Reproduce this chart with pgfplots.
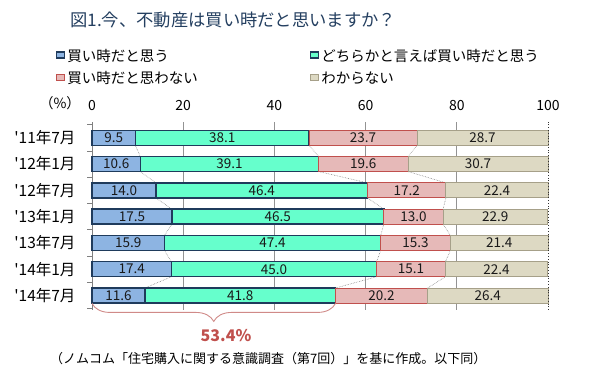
\documentclass[border=0pt]{standalone}
\usepackage{fontspec}
\setmainfont{Noto Sans CJK JP}
\usepackage{pgfplots}
\usepackage{pgfplotstable}
\pgfplotsset{compat=1.18}
\usetikzlibrary{decorations.pathreplacing}

\definecolor{cblue}{HTML}{8DB4E2}
\definecolor{cteal}{HTML}{66FFCC}
\definecolor{cpink}{HTML}{E6B9B8}
\definecolor{cbeige}{HTML}{DDD9C3}
\definecolor{navy}{HTML}{1F3B5C}
\definecolor{cred}{HTML}{C0504D}
\definecolor{cbeigeb}{HTML}{A6A089}
\definecolor{titleblue}{HTML}{243F60}
\definecolor{braceC}{HTML}{D08A88}

\pgfplotstableread{
y a b c d
6 9.5 38.1 23.7 28.7
5 10.6 39.1 19.6 30.7
4 14.0 46.4 17.2 22.4
3 17.5 46.5 13.0 22.9
2 15.9 47.4 15.3 21.4
1 17.4 45.0 15.1 22.4
0 11.6 41.8 20.2 26.4
}\data
\pgfplotstablecreatecol[create col/expr={\thisrow{a}/2}]{ma}\data
\pgfplotstablecreatecol[create col/expr={\thisrow{a}+\thisrow{b}/2}]{mb}\data
\pgfplotstablecreatecol[create col/expr={\thisrow{a}+\thisrow{b}+\thisrow{c}/2}]{mc}\data
\pgfplotstablecreatecol[create col/expr={\thisrow{a}+\thisrow{b}+\thisrow{c}+\thisrow{d}/2}]{md}\data

\pgfplotsset{vallabel/.style={forget plot, stack plots=false, draw=none, mark=none, point meta=explicit,
  nodes near coords={\pgfmathprintnumber[fixed,fixed zerofill,precision=1]{\pgfplotspointmeta}},
  nodes near coords style={font=\fontsize{13.5}{15}\selectfont, text=black!90, anchor=center}}}

\begin{document}
\begin{tikzpicture}[x=1pt,y=1pt]
\path[use as bounding box] (0,0) rectangle (590,374);
\begin{axis}[
  at={(92pt,64pt)}, anchor=south west,
  width=456pt, height=188pt, scale only axis,
  xmin=0, xmax=100, ymin=-0.55, ymax=6.6,
  clip=false,
  axis x line*=top, axis y line*=left,
  x axis line style={draw=none},
  y axis line style={draw=gray, line width=0.8pt},
  xtick={20,40,60,80},
  extra x ticks={0,100},
  extra x tick labels={0,100},
  extra x tick style={grid=none},
  xmajorgrids,
  major grid style={draw=gray!85, line width=0.8pt},
  major tick length=0pt,
  minor tick length=5pt,
  tick align=outside,
  ytick={0,...,6},
  yticklabels={{\textquotesingle14年7月},{\textquotesingle14年1月},{\textquotesingle13年7月},{\textquotesingle13年1月},{\textquotesingle12年7月},{\textquotesingle12年1月},{\textquotesingle11年7月}},
  minor ytick={-0.5,0.5,...,6.5},
  minor y tick style={draw=gray, line width=0.8pt},
  /pgf/number format/assume math mode=true,
  xticklabel style={font=\fontsize{14}{16}\selectfont, yshift=8pt},
  yticklabel style={font=\fontsize{15.5}{17}\selectfont, xshift=-13pt},
  legend columns=2,
  legend cell align=left,
  legend style={at={(-0.086,1.41)}, anchor=north west, draw=none, fill=none,
    font=\fontsize{14.5}{16}\selectfont, row sep=4.5pt,
    /tikz/every even column/.append style={column sep=110pt}},
  legend image code/.code={\draw[#1] (-2pt,-4.5pt) rectangle (7pt,4.5pt);},
  every axis plot/.append style={bar width=15pt},
]
% series lines
\addplot[forget plot, stack plots=false, draw=gray, densely dotted, line width=0.6pt, mark=none] coordinates {
(9.5,6.285)(9.5,5.715)(10.6,5.285)(10.6,4.715)(14.0,4.285)(14.0,3.715)(17.5,3.285)(17.5,2.715)(15.9,2.285)(15.9,1.715)(17.4,1.285)(17.4,0.715)(11.6,0.285)(11.6,-0.285)};
\addplot[forget plot, stack plots=false, draw=gray, densely dotted, line width=0.6pt, mark=none] coordinates {
(47.6,6.285)(47.6,5.715)(49.7,5.285)(49.7,4.715)(60.4,4.285)(60.4,3.715)(64.0,3.285)(64.0,2.715)(63.3,2.285)(63.3,1.715)(62.4,1.285)(62.4,0.715)(53.4,0.285)(53.4,-0.285)};
\addplot[forget plot, stack plots=false, draw=gray, densely dotted, line width=0.6pt, mark=none] coordinates {
(71.3,6.285)(71.3,5.715)(69.3,5.285)(69.3,4.715)(77.6,4.285)(77.6,3.715)(77.0,3.285)(77.0,2.715)(78.6,2.285)(78.6,1.715)(77.5,1.285)(77.5,0.715)(73.6,0.285)(73.6,-0.285)};

\addplot[xbar stacked, fill=cblue, draw=navy, line width=1.5pt] table[x=a,y=y]{\data};
\addlegendentry{買い時だと思う}
\addplot[xbar stacked, fill=cteal, draw=navy, line width=1.5pt] table[x=b,y=y]{\data};
\addlegendentry{どちらかと言えば買い時だと思う}
\addplot[xbar stacked, fill=cpink, draw=cred, line width=0.8pt] table[x=c,y=y]{\data};
\addlegendentry{買い時だと思わない}
\addplot[xbar stacked, fill=cbeige, draw=cbeigeb, line width=0.8pt] table[x=d,y=y]{\data};
\addlegendentry{わからない}

% value labels at segment centres
\addplot[vallabel] table[x=ma,y=y,meta=a]{\data};
\addplot[vallabel] table[x=mb,y=y,meta=b]{\data};
\addplot[vallabel] table[x=mc,y=y,meta=c]{\data};
\addplot[vallabel] table[x=md,y=y,meta=d]{\data};

\draw[black!80, dotted, line width=0.8pt] (axis cs:100,-0.55) -- (axis cs:100,6.6);
\draw[braceC, line width=0.9pt, decorate, decoration={brace, mirror, amplitude=18pt}]
  (axis cs:0,-0.3) -- (axis cs:53.4,-0.3);
\end{axis}
\node[anchor=west, text=titleblue, font=\fontsize{17.3}{19}\selectfont, inner sep=0] at (70,354) {図1.今、不動産は買い時だと思いますか？};
\node[font=\fontsize{14}{16}\selectfont, inner sep=0] at (60,271) {（\%）};
\node[text=cred, font=\bfseries\fontsize{16}{18}\selectfont, inner sep=0] at (226,38) {53.4\%};
\node[anchor=west, font=\fontsize{13}{15}\selectfont, inner sep=0] at (50,15) {（ノムコム「住宅購入に関する意識調査（第7回）」を基に作成。以下同）};
\end{tikzpicture}
\end{document}
